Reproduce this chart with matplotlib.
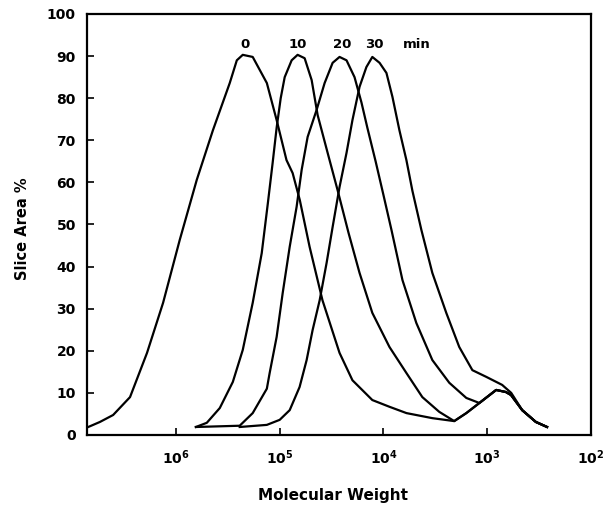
import matplotlib
matplotlib.use("Agg")
import matplotlib.pyplot as plt

# GPC slices, molecular weight vs slice area %
mw_0 = [7.0e6, 5.4e6, 4.03e6, 2.77e6, 1.90e6, 1.33e6, 9.2e5, 6.3e5, 4.4e5, 3.03e5, 2.59e5,
        2.27e5, 1.82e5, 1.33e5, 1.07e5, 8.6e4, 7.5e4, 6.4e4, 5.15e4, 3.87e4, 2.65e4, 1.99e4,
        1.28e4, 8.75e3, 6.0e3, 3.38e3, 2.08e3, 1.59e3, 1.19e3, 8.2e2, 6.6e2, 5.9e2, 4.6e2,
        3.4e2, 2.65e2]
area_0 = [1.9, 3.1, 4.75, 9.0, 19.5, 31.4, 46.3, 60.6, 72.4, 83.6, 89.0,
          90.3, 89.8, 83.6, 74.8, 65.3, 62.2, 55.8, 44.7, 32.0, 19.5, 13.0,
          8.3, 6.7, 5.2, 4.0, 3.3, 5.2, 7.6, 10.7, 10.2, 9.5, 5.9,
          3.1, 1.9]

mw_10 = [6.42e5, 5.04e5, 3.78e5, 2.83e5, 2.27e5, 1.82e5, 1.49e5, 1.30e5, 1.17e5, 1.07e5,
         9.78e4, 8.95e4, 7.67e4, 6.72e4, 5.75e4, 4.92e4, 4.31e4, 3.45e4, 2.77e4, 2.17e4,
         1.70e4, 1.28e4, 8.75e3, 6.0e3, 4.22e3, 2.90e3, 2.08e3, 1.59e3, 1.19e3, 8.2e2,
         6.6e2, 5.9e2, 4.6e2, 3.4e2, 2.65e2]
area_10 = [1.9, 2.9, 6.4, 12.6, 20.2, 31.4, 43.2, 55.1, 64.6, 73.0,
           80.0, 85.0, 89.0, 90.3, 89.5, 84.3, 76.0, 67.0, 58.2, 48.0,
           38.5, 29.0, 20.9, 14.7, 9.0, 5.5, 3.3, 5.2, 7.6, 10.7,
           10.2, 9.5, 5.9, 3.1, 1.9]

mw_20 = [6.42e5, 2.43e5, 1.82e5, 1.33e5, 1.25e5, 1.07e5, 9.36e4, 8.01e4, 6.87e4, 6.14e4,
         5.38e4, 4.41e4, 3.69e4, 3.09e4, 2.65e4, 2.27e4, 1.90e4, 1.63e4, 1.43e4, 1.19e4,
         1.0e4, 8.37e3, 6.56e3, 4.82e3, 3.38e3, 2.32e3, 1.59e3, 1.19e3, 8.2e2, 6.6e2,
         5.9e2, 4.6e2, 3.4e2, 2.65e2]
area_20 = [1.9, 2.2, 5.2, 11.0, 14.7, 23.3, 33.7, 44.7, 54.2, 63.0,
           70.8, 77.2, 83.6, 88.4, 89.8, 89.0, 85.0, 79.0, 73.0, 65.0,
           57.0, 48.7, 36.8, 26.6, 17.8, 12.4, 8.8, 7.6, 10.7, 10.2,
           9.5, 5.9, 3.1, 1.9]

mw_30 = [2.43e5, 1.33e5, 1.0e5, 8.01e4, 6.43e4, 5.5e4, 4.82e4, 4.12e4, 3.53e4, 3.09e4,
         2.65e4, 2.27e4, 1.99e4, 1.70e4, 1.46e4, 1.28e4, 1.09e4, 9.36e3, 8.19e3, 7.02e3,
         6.01e3, 5.26e3, 4.31e3, 3.38e3, 2.48e3, 1.86e3, 1.39e3, 1.02e3, 7.18e2, 5.87e2,
         4.6e2, 3.4e2, 2.65e2]
area_30 = [1.9, 2.4, 3.6, 5.9, 11.4, 17.8, 24.9, 32.0, 40.9, 49.4,
           58.9, 67.0, 74.8, 82.7, 87.4, 89.8, 88.4, 86.0, 80.3, 72.4,
           65.3, 58.0, 48.7, 38.5, 29.0, 20.9, 15.4, 13.8, 11.9, 10.0,
           5.9, 3.1, 1.9]

curve_labels = ["0", "10", "20", "30", "min"]
label_mw = [2.17e5, 6.72e4, 2.48e4, 1.22e4, 4.82e3]
label_area = 92.7

y_ticks = list(range(0, 101, 10))
x_ticks = [1e6, 1e5, 1e4, 1e3, 1e2]
x_ticklabels = [r"$\mathbf{10^{6}}$", r"$\mathbf{10^{5}}$", r"$\mathbf{10^{4}}$",
                r"$\mathbf{10^{3}}$", r"$\mathbf{10^{2}}$"]

plt.rcParams['font.family'] = ['DejaVu Sans']
plt.rcParams['font.weight'] = 'bold'
plt.rcParams['mathtext.fontset'] = 'dejavusans'

fig = plt.figure(figsize=(6.07, 5.09), dpi=100)
ax = fig.add_axes([0.1433, 0.1454, 0.8303, 0.8271])

for mw, area in [(mw_0, area_0), (mw_10, area_10), (mw_20, area_20), (mw_30, area_30)]:
    ax.plot(mw, area, color='black', linewidth=1.6, solid_joinstyle='round')

for txt, mw in zip(curve_labels, label_mw):
    ax.text(mw, label_area, txt, ha='center', va='center', fontsize=9.5, fontweight='bold')

ax.set_xscale('log')
ax.set_xlim(7.2e6, 1e2)
ax.set_ylim(0, 100)
ax.set_yticks(y_ticks)
ax.set_yticklabels([str(v) for v in y_ticks], fontsize=10, fontweight='bold')
ax.set_xticks(x_ticks)
ax.set_xticklabels(x_ticklabels, fontsize=10)
ax.xaxis.set_minor_locator(matplotlib.ticker.NullLocator())
ax.tick_params(axis='both', direction='in', length=5, width=1.2, top=False, right=False)
ax.tick_params(axis='y', pad=8)
ax.tick_params(axis='x', pad=10)
for sp in ax.spines.values():
    sp.set_linewidth(1.6)

ax.set_ylabel('Slice Area %', fontsize=10.5, fontweight='bold')
ax.yaxis.set_label_coords(-0.113, 0.49)
ax.set_xlabel('Molecular Weight', fontsize=11, fontweight='bold')
ax.xaxis.set_label_coords(0.488, -0.127)

fig.savefig('out.png', dpi=100)
